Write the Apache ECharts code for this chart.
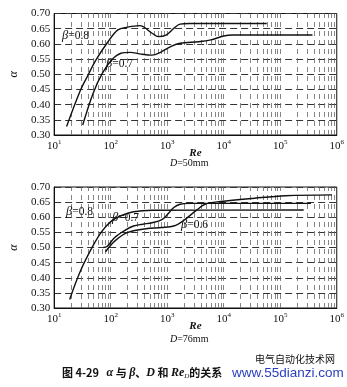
<!DOCTYPE html>
<html>
<head>
<meta charset="utf-8">
<script src="https://cdn.jsdelivr.net/npm/echarts@6/dist/echarts.min.js"></script>
<style>
  html, body { margin: 0; padding: 0; background: #fff; }
  #chart { width: 347px; height: 387px; }
</style>
</head>
<body>
<div id="chart"></div>
<script>
// Flow coefficient α versus Reynolds number, D = 50 mm (upper panel)
var reA08 = [16.6, 29.3, 40, 55, 86, 134, 200, 326, 541, 697, 955, 1310, 1690, 2500, 57800];
var alA08 = [0.328, 0.448, 0.498, 0.547, 0.602, 0.646, 0.655, 0.660, 0.635, 0.624, 0.629, 0.651, 0.665, 0.667, 0.667];
var reA07 = [32, 48.8, 71, 104, 152, 224, 326, 540, 790, 1156, 1690, 3600, 5900, 10000, 14500, 372000];
var alA07 = [0.333, 0.437, 0.503, 0.547, 0.569, 0.572, 0.567, 0.563, 0.574, 0.591, 0.602, 0.607, 0.613, 0.626, 0.629, 0.629];

// D = 76 mm (lower panel)
var reB08 = [18.8, 29.3, 48.8, 71, 104, 152, 253, 540, 260000];
var alB08 = [0.328, 0.423, 0.506, 0.555, 0.588, 0.605, 0.618, 0.623, 0.624];
var reB07 = [74, 86, 118, 173, 253, 370, 541, 790, 1020, 1310, 1690, 2470, 350000];
var alB07 = [0.500, 0.503, 0.533, 0.555, 0.571, 0.577, 0.582, 0.591, 0.610, 0.632, 0.643, 0.646, 0.646];
var reB06 = [81, 118, 196, 419, 790, 1310, 1915, 3190, 4660, 8750, 35300, 123600, 826000];
var alB06 = [0.486, 0.521, 0.549, 0.562, 0.566, 0.571, 0.588, 0.621, 0.643, 0.652, 0.663, 0.671, 0.674];

var yTicks = ['0.30', '0.35', '0.40', '0.45', '0.50', '0.55', '0.60', '0.65', '0.70'];
var panelNames = ['D=50mm', 'D=76mm'];

function pairs(xs, ys) {
  return xs.map(function (x, i) { return [x, ys[i]]; });
}

// vertical log grid lines at k·10^n
var logGrid = [];
for (var n = 1; n <= 5; n++) {
  for (var k = 1; k <= 9; k++) {
    var v = k * Math.pow(10, n);
    if (v > 10 && v < 1e6) logGrid.push({ xAxis: v });
  }
}

var serif = '"Liberation Serif", "DejaVu Serif", serif';

function xAxisFor(idx) {
  return {
    type: 'log', logBase: 10, gridIndex: idx, min: 10, max: 1e6,
    name: 'Re', nameLocation: 'middle', nameGap: 13, nameMoveOverlap: false,
    nameTextStyle: { fontFamily: serif, fontStyle: 'italic', fontWeight: 'bold', fontSize: 11, color: '#111' },
    axisLine: { show: true, lineStyle: { color: '#111', width: 1 } },
    axisTick: { show: false },
    splitLine: { show: false },
    minorTick: { show: false },
    axisLabel: {
      color: '#111', fontFamily: serif, fontSize: 11, margin: 4,
      formatter: function (v) { return '10{s|' + Math.round(Math.log10(v)) + '}'; },
      rich: { s: { fontSize: 7, fontFamily: serif, color: '#111', verticalAlign: 'bottom', padding: [0, 0, 7, 0] } }
    }
  };
}

function yAxisFor(idx) {
  return {
    type: 'value', gridIndex: idx, min: 0.3, max: 0.7, interval: 0.05,
    name: 'α', nameLocation: 'middle', nameGap: 26, nameRotate: 90,
    nameTextStyle: { fontFamily: serif, fontStyle: 'italic', fontSize: 12, color: '#111' },
    axisLine: { show: true, lineStyle: { color: '#111', width: 1 } },
    axisTick: { show: false },
    axisLabel: {
      color: '#111', fontFamily: serif, fontSize: 11, margin: 4,
      formatter: function (v) { return yTicks[Math.round((v - 0.3) / 0.05)]; }
    },
    splitLine: { show: true, lineStyle: { color: '#333', width: 1, type: [7, 4] } }
  };
}

function curve(idx, xs, ys) {
  return {
    type: 'line', xAxisIndex: idx, yAxisIndex: idx,
    data: pairs(xs, ys), showSymbol: false, smooth: 0.35,
    lineStyle: { color: '#111', width: 1.4 }, silent: true, z: 5
  };
}

function gridLines(idx) {
  return {
    type: 'line', xAxisIndex: idx, yAxisIndex: idx, data: [], silent: true,
    markLine: {
      symbol: 'none', silent: true, label: { show: false },
      lineStyle: { color: '#666', width: 0.8, type: [5, 4] },
      data: logGrid
    }
  };
}

function tag(x, y, txt) {
  return {
    type: 'text', left: x, top: y, z: 10,
    style: {
      text: '{b|β}=' + txt, fill: '#111', font: '11.5px ' + serif,
      rich: { b: { fontStyle: 'italic', fontFamily: serif, fontSize: 12.5, fill: '#111' } }
    }
  };
}

function dLabel(y, txt) {
  return {
    type: 'text', left: 170, top: y,
    style: { text: '{i|D}' + txt, font: '10px ' + serif, fill: '#111',
      rich: { i: { fontStyle: 'italic', fontFamily: serif, fontSize: 10, fill: '#111' } } }
  };
}

var chart = echarts.init(document.getElementById('chart'), null, { renderer: 'canvas' });
chart.setOption({
  backgroundColor: '#fff',
  animation: false,
  grid: [
    { left: 35, top: 13.5, width: 303, height: 121.5, show: true, borderColor: '#111', borderWidth: 1 },
    { left: 35, top: 187, width: 303, height: 121, show: true, borderColor: '#111', borderWidth: 1 }
  ],
  xAxis: [xAxisFor(0), xAxisFor(1)],
  yAxis: [yAxisFor(0), yAxisFor(1)],
  series: [
    gridLines(0), gridLines(1),
    curve(0, reA08, alA08), curve(0, reA07, alA07),
    curve(1, reB08, alB08), curve(1, reB07, alB07), curve(1, reB06, alB06)
  ],
  graphic: [
    tag(62, 29, '0.8'), tag(106, 57, '0.7'),
    tag(66, 205, '0.8'), tag(112, 211, '0.7'), tag(181, 218, '0.6'),
    dLabel(158, panelNames[0].slice(1)),
    dLabel(334, panelNames[1].slice(1)),
    { type: 'text', left: 255, top: 354, style: { text: '电气自动化技术网', font: '10px "Noto Sans CJK SC"', fill: '#111' } },
    { type: 'text', left: 62, top: 367, style: {
        text: '图 4-29   {i|α} 与 {i|β}、{i|D} 和 {i|Re}{sub|D}的关系',
        font: 'bold 11px "Noto Sans CJK SC"', fill: '#111',
        rich: {
          i: { fontFamily: serif, fontStyle: 'italic', fontWeight: 'bold', fontSize: 12, fill: '#111' },
          sub: { fontFamily: serif, fontStyle: 'italic', fontSize: 7, fill: '#111', verticalAlign: 'bottom', padding: [6, 0, 0, 0] }
        } } },
    { type: 'rect', left: 229, top: 366, shape: { width: 118, height: 16 }, style: { fill: '#fff' }, z: 20 },
    { type: 'text', left: 232, top: 366, z: 21, style: { text: 'www.55dianzi.com', font: '13.5px "Liberation Sans", Arial, sans-serif', fill: '#2a3fc0' } }
  ]
});
</script>
</body>
</html>
